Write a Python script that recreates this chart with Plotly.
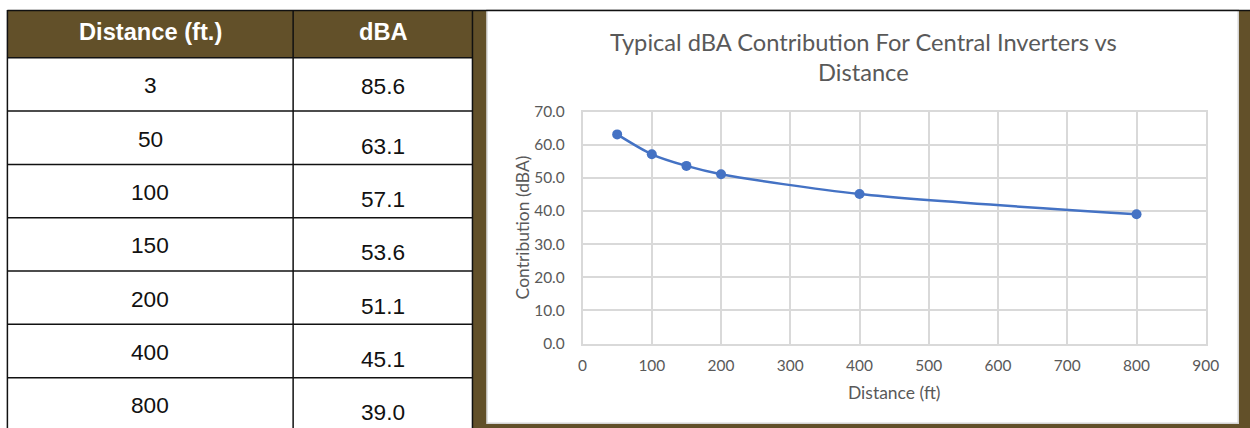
import plotly.graph_objects as go

# ---- data ----
table_headers = ["Distance (ft.)", "dBA"]
table_distance = [3, 50, 100, 150, 200, 400, 800]
table_dba = [85.6, 63.1, 57.1, 53.6, 51.1, 45.1, 39.0]

chart_distance = [50, 100, 150, 200, 400, 800]
chart_dba = [63.1, 57.1, 53.6, 51.1, 45.1, 39.0]

chart_title_lines = ["Typical dBA Contribution For Central Inverters vs", "Distance"]
x_title = "Distance (ft)"
y_title = "Contribution (dBA)"

# ---- layout helpers ----
W, H = 1266, 448           # figure size
OX, OY, SX, SY = 3.6, 10.4, 0.9875, 0.956   # observed page->photo mapping
BROWN = "#625029"
BLUE = "#4472C4"
GRAY_TXT = "#595959"
GRID = "#D9D9D9"


def px(x):
    return min(max(((x - OX) / SX) / W, 0.0), 1.0)


def py(y):
    return min(max(1 - ((y - OY) / SY) / H, 0.0), 1.0)


def fs(s):
    return s / ((SX + SY) / 2)


fig = go.Figure()
fig.add_trace(go.Scatter(
    x=chart_distance, y=chart_dba, mode="lines+markers",
    line=dict(color=BLUE, width=2.5, shape="spline", smoothing=0.8),
    marker=dict(color=BLUE, size=10),
    showlegend=False, hoverinfo="x+y",
))

shapes = []
shapes.append(dict(type="rect", xref="paper", yref="paper", x0=px(472.5), x1=1,
                   y0=0, y1=py(5), fillcolor=BROWN, line=dict(width=0), layer="below"))
shapes.append(dict(type="rect", xref="paper", yref="paper", x0=px(487), x1=px(1239),
                   y0=py(422), y1=py(10.5), fillcolor="white", line=dict(color="#D4D4D4", width=1.5),
                   layer="below"))
shapes.append(dict(type="rect", xref="paper", yref="paper", x0=px(7), x1=px(473),
                   y0=py(58), y1=py(5), fillcolor=BROWN, line=dict(width=0), layer="below"))

LINE = dict(color="#111111", width=1.5)
shapes.append(dict(type="line", xref="paper", yref="paper", x0=px(7), x1=1,
                   y0=py(5) - 0.001, y1=py(5) - 0.001, line=LINE, layer="below"))
for xv in [7, 293, 472.5]:
    shapes.append(dict(type="line", xref="paper", yref="paper", x0=px(xv), x1=px(xv),
                       y0=0, y1=py(5), line=LINE, layer="below"))
ROW0 = 58
ROWH = 53.1
for k in range(len(table_distance)):
    yv = ROW0 + k * ROWH
    shapes.append(dict(type="line", xref="paper", yref="paper", x0=px(7), x1=px(472.5),
                       y0=py(yv), y1=py(yv), line=LINE, layer="below"))

annotations = []
TFONT = "Liberation Sans, Arial"
col_centers = [150, 383]
for i, h in enumerate(table_headers):
    annotations.append(dict(text=f"<b>{h}</b>", x=px(col_centers[i]), y=py(32), xref="paper", yref="paper",
                            showarrow=False, xanchor="center", yanchor="middle",
                            font=dict(family=TFONT, size=fs(23), color="white")))
for i, (d, v) in enumerate(zip(table_distance, table_dba)):
    yc = ROW0 + i * ROWH + ROWH / 2
    annotations.append(dict(text=str(d), x=px(col_centers[0]), y=py(yc + 1.5), xref="paper", yref="paper",
                            showarrow=False, xanchor="center", yanchor="middle",
                            font=dict(family=TFONT, size=fs(22), color="#111111")))
    off = 2 if i == 0 else 8.5
    annotations.append(dict(text=f"{v:.1f}", x=px(col_centers[1]), y=py(yc + off), xref="paper", yref="paper",
                            showarrow=False, xanchor="center", yanchor="middle",
                            font=dict(family=TFONT, size=fs(22), color="#111111")))

CFONT = "Lato, Open Sans, sans-serif"
for line_txt, yy in zip(chart_title_lines, [42, 72]):
    annotations.append(dict(text=line_txt, x=px(864), y=py(yy), xref="paper", yref="paper",
                            showarrow=False, xanchor="center", yanchor="middle",
                            font=dict(family=CFONT, size=fs(23), color=GRAY_TXT)))
annotations.append(dict(text=x_title, x=px(895), y=py(391), xref="paper", yref="paper",
                        showarrow=False, xanchor="center", yanchor="middle",
                        font=dict(family=CFONT, size=fs(17), color=GRAY_TXT)))
annotations.append(dict(text=y_title, x=px(523), y=py(227), xref="paper", yref="paper",
                        showarrow=False, xanchor="center", yanchor="middle", textangle=-90,
                        font=dict(family=CFONT, size=fs(17), color=GRAY_TXT)))

fig.update_layout(
    width=W, height=H, autosize=False,
    margin=dict(l=0, r=0, t=0, b=0, pad=0),
    paper_bgcolor="white",
    plot_bgcolor="rgba(0,0,0,0)",
    shapes=shapes,
    annotations=annotations,
    xaxis=dict(domain=[px(582.7), px(1206.5)], range=[0, 900], dtick=100, tick0=0,
               showgrid=True, gridcolor=GRID, gridwidth=1.5, zeroline=False,
               showline=True, mirror=True, linecolor=GRID, linewidth=1.5,
               ticks="", ticklabelstandoff=7,
               tickfont=dict(family=CFONT, size=fs(15), color=GRAY_TXT)),
    yaxis=dict(domain=[py(342.7), py(111.5)], range=[0, 70], dtick=10, tick0=0, tickformat=".1f",
               showgrid=True, gridcolor=GRID, gridwidth=1.5, zeroline=False,
               showline=True, mirror=True, linecolor=GRID, linewidth=1.5,
               ticks="", ticklabelstandoff=13,
               tickfont=dict(family=CFONT, size=fs(15), color=GRAY_TXT)),
)

fig.write_html(
    "out.html",
    config={"displayModeBar": False, "responsive": False},
    post_script="document.body.style.margin='0';document.body.style.padding='0';"
                "document.body.style.overflow='hidden';"
                "document.documentElement.style.overflow='hidden';",
)
